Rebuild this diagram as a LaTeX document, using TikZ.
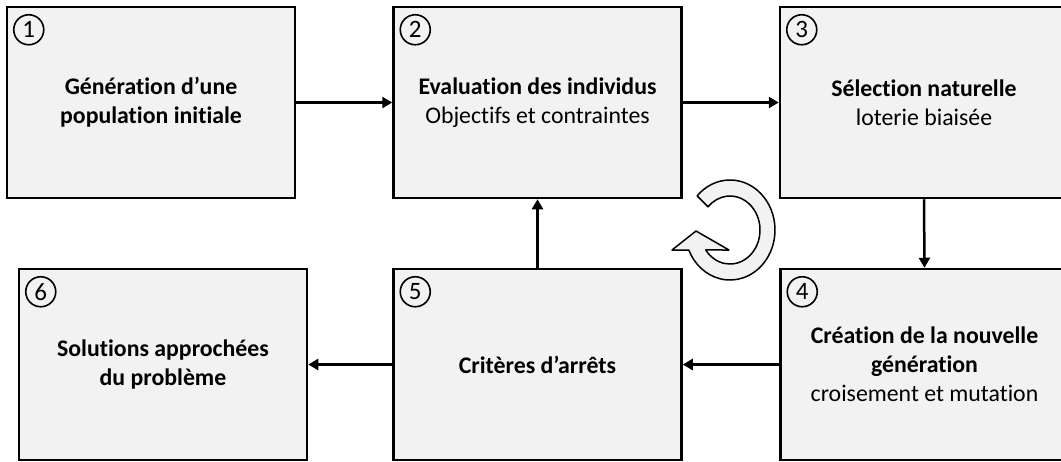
\documentclass[tikz,border=0pt]{standalone}
\usepackage{fontspec}
\setmainfont{Carlito}[Ligatures={NoCommon}]
\usetikzlibrary{arrows.meta}
\definecolor{boxgray}{HTML}{F2F2F2}
\begin{document}
\begin{tikzpicture}[x=1pt,y=1pt,
  box/.style={draw=black, line width=2.5pt, fill=boxgray, minimum width=288pt, minimum height=191pt,
    inner sep=0pt, align=center, font=\fontsize{23.8}{29}\selectfont},
  num/.style={circle, draw=black, line width=1.6pt, minimum size=30pt, inner sep=0pt,
    font=\fontsize{25}{25}\selectfont},
  arr/.style={line width=2.5pt, -{Triangle[length=10pt,width=11pt]}},
  ring/.style={draw=black, line width=1.5pt, fill=boxgray, line join=round}]
\useasboundingbox (0,0) rectangle (1061,-461);
% boxes
\node[box] (b1) at (151,-102.5) {\textbf{Génération d’une}\\\textbf{population initiale}};
\node[box] (b2) at (537.5,-102.5) {\textbf{Evaluation des individus}\\Objectifs et contraintes};
\node[box] (b3) at (924,-102.5) {\textbf{Sélection naturelle}\\loterie biaisée};
\node[box] (b4) at (924.5,-364.5) {\textbf{Création de la nouvelle}\\\textbf{génération}\\croisement et mutation};
\node[box] (b5) at (537.5,-364.5) {\textbf{Critères d’arrêts}};
\node[box] (b6) at (163,-364.5) {\textbf{Solutions approchées}\\\textbf{du problème}};
% numbers
\node[num] (n1) at ([shift={(23,-24)}]b1.north west) {1};
\node[num] (n2) at ([shift={(23,-24)}]b2.north west) {2};
\node[num] (n3) at ([shift={(23,-24)}]b3.north west) {3};
\node[num] (n4) at ([shift={(23,-24)}]b4.north west) {4};
\node[num] (n5) at ([shift={(23,-24)}]b5.north west) {5};
\node[num] (n6) at ([shift={(23,-24)}]b6.north west) {6};
% arrows
\draw[arr] (b1.east) -- (b2.west);
\draw[arr] (b2.east) -- (b3.west);
\draw[arr] (b3.south) -- (b4.north);
\draw[arr] (b4.west) -- (b5.east);
\draw[arr] (b5.west) -- (b6.east);
\draw[arr] (b5.north) -- (b2.south);
% circular arrow
\coordinate (rc) at (730,-230);
\draw[ring] ([shift={(137:45 and 50)}]rc)
  arc[start angle=137, end angle=-156.4, x radius=45, y radius=50]
  -- (672,-250) -- (696,-231) -- (729,-250) -- ([shift={(-144:30 and 34)}]rc)
  arc[start angle=-144, end angle=137, x radius=30, y radius=34] -- cycle;
\end{tikzpicture}
\end{document}
